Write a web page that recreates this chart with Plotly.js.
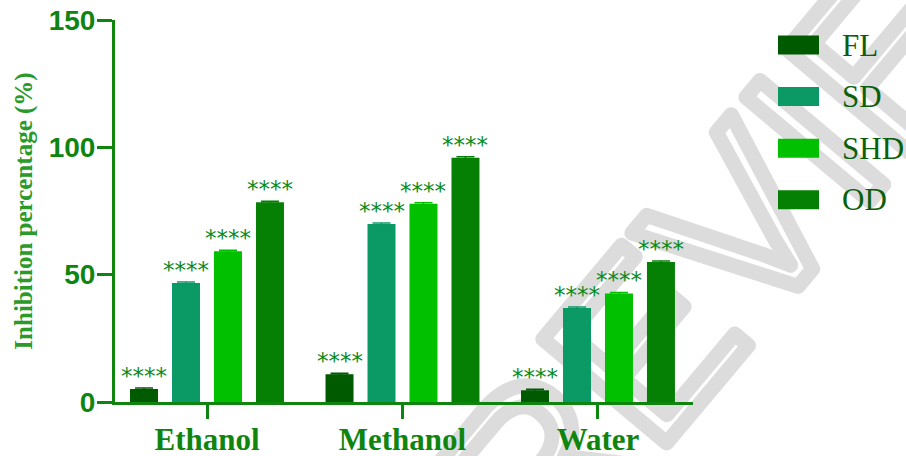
<!DOCTYPE html>
<html>
<head>
<meta charset="utf-8">
<script src="https://cdn.plot.ly/plotly-3.0.1.min.js"></script>
<style>
  html, body { margin: 0; padding: 0; background: #ffffff; }
  #chart { width: 906px; height: 456px; }
</style>
</head>
<body>
<div id="chart"></div>
<script>
// Extract solvents on the category axis
const categories = ['Ethanol', 'Methanol', 'Water'];

// Drying methods (one bar series each)
const seriesNames = ['FL', 'SD', 'SHD', 'OD'];
const seriesColors = ['#005a00', '#0b9966', '#00c000', '#058005'];

// Inhibition percentage (%) per solvent, per drying method
const valuesFL  = [5.1, 10.9, 4.6];
const valuesSD  = [46.7, 69.9, 36.9];
const valuesSHD = [59.2, 77.8, 42.6];
const valuesOD  = [78.4, 95.9, 55.0];

// Standard deviations (very small)
const errFL  = [0.4, 0.4, 0.4];
const errSD  = [0.4, 0.4, 0.4];
const errSHD = [0.4, 0.4, 0.4];
const errOD  = [0.4, 0.4, 0.4];

// Significance marks above each bar
const sigFL  = ['****', '****', '****'];
const sigSD  = ['****', '****', '****'];
const sigSHD = ['****', '****', '****'];
const sigOD  = ['****', '****', '****'];

const yTickVals = [0, 50, 100, 150];
const yTickText = ['0', '50', '100', '150'];

const allValues = [valuesFL, valuesSD, valuesSHD, valuesOD];
const allErrors = [errFL, errSD, errSHD, errOD];
const allSig    = [sigFL, sigSD, sigSHD, sigOD];

const axisGreen = '#0f850f';
const BARGAP = 0.141;
const BARGROUPGAP = 0.333;

const traces = seriesNames.map((name, i) => ({
  type: 'bar',
  name: name,
  x: categories,
  y: allValues[i],
  marker: { color: seriesColors[i], line: { width: 0 } },
  error_y: {
    type: 'data', array: allErrors[i], visible: true,
    color: seriesColors[i], thickness: 1.5, width: 9
  },
  showlegend: false,
  hoverinfo: 'x+y+name'
}));

// Star annotations placed over each bar of the grouped layout
const slot = (1 - BARGAP) / seriesNames.length;
const annotations = [];
seriesNames.forEach((name, i) => {
  categories.forEach((cat, j) => {
    annotations.push({
      xref: 'x', yref: 'y',
      x: j + (i - (seriesNames.length - 1) / 2) * slot,
      y: allValues[i][j] + allErrors[i][j],
      text: allSig[i][j],
      showarrow: false,
      yanchor: 'bottom',
      yshift: -3,
      font: { family: 'DejaVu Sans, sans-serif', size: 23, color: '#0b8a1c' }
    });
  });
});

// Custom legend: wide swatches with serif labels on the right
const shapes = [];
const plotLeft = 115, plotWidth = 578, plotTop = 20, plotHeight = 382;
const toPaperX = px => (px - plotLeft) / plotWidth;
const toPaperY = py => 1 - (py - plotTop) / plotHeight;
seriesNames.forEach((name, i) => {
  const cy = 45 + i * 51.6;
  shapes.push({
    type: 'rect', xref: 'paper', yref: 'paper',
    x0: toPaperX(778), x1: toPaperX(819),
    y0: toPaperY(cy + 9.5), y1: toPaperY(cy - 9.5),
    fillcolor: seriesColors[i], line: { width: 0 }, layer: 'above'
  });
  annotations.push({
    xref: 'paper', yref: 'paper',
    x: toPaperX(840), y: toPaperY(cy),
    xanchor: 'left', yanchor: 'middle',
    text: name, showarrow: false,
    font: { family: 'Liberation Serif, Times New Roman, serif', size: 31, color: '#0a600a' }
  });
});

// Watermark lettering across the right side
annotations.push({
  xref: 'paper', yref: 'paper',
  x: toPaperX(730), y: toPaperY(240),
  text: 'PREVIEW', showarrow: false, textangle: -50,
  xanchor: 'center', yanchor: 'middle',
  font: { family: 'Liberation Sans, Arial, sans-serif', size: 235, color: 'rgba(0,0,0,0)' }
});

const layout = {
  width: 906, height: 456,
  margin: { l: plotLeft, r: 906 - plotLeft - plotWidth, t: plotTop, b: 456 - plotTop - plotHeight },
  paper_bgcolor: '#ffffff', plot_bgcolor: 'rgba(0,0,0,0)',
  barmode: 'group',
  bargap: BARGAP,
  bargroupgap: BARGROUPGAP,
  showlegend: false,
  xaxis: {
    type: 'category',
    range: [-0.4706, 2.486],
    showline: true, linecolor: axisGreen, linewidth: 3,
    ticks: 'outside', ticklen: 14, tickwidth: 3, tickcolor: axisGreen,
    ticklabelstandoff: -6,
    showgrid: false, zeroline: false,
    tickfont: { family: 'Liberation Serif, Times New Roman, serif', size: 31, color: axisGreen, weight: 'bold' }
  },
  yaxis: {
    range: [0, 150],
    tickvals: yTickVals, ticktext: yTickText,
    showline: true, linecolor: axisGreen, linewidth: 3,
    ticks: 'outside', ticklen: 15, tickwidth: 3, tickcolor: axisGreen,
    ticklabelstandoff: -4,
    showgrid: false, zeroline: false,
    tickfont: { family: 'Liberation Sans, Arial, sans-serif', size: 28, color: axisGreen, weight: 'bold' },
    title: {
      text: 'Inhibition percentage (%)',
      standoff: 9,
      font: { family: 'Liberation Serif, Times New Roman, serif', size: 25, color: '#2a9a2a', weight: 'bold' }
    }
  },
  shapes: shapes,
  annotations: annotations
};

Plotly.newPlot('chart', traces, layout, { displayModeBar: false, staticPlot: true }).then(gd => {
  // Outline-only watermark lettering, sent behind the axes and bars
  const paper = gd.querySelector('.main-svg');
  const cartesian = paper.querySelector('.cartesianlayer');
  gd.querySelectorAll('.annotation').forEach(g => {
    const t = g.querySelector('.annotation-text');
    if (t && t.textContent === 'PREVIEW') {
      t.style.fill = 'none';
      t.style.stroke = '#dcdcdc';
      t.style.strokeWidth = '15px';
      t.style.strokeLinejoin = 'round';
      paper.insertBefore(g, cartesian);
    }
  });
});
</script>
</body>
</html>
